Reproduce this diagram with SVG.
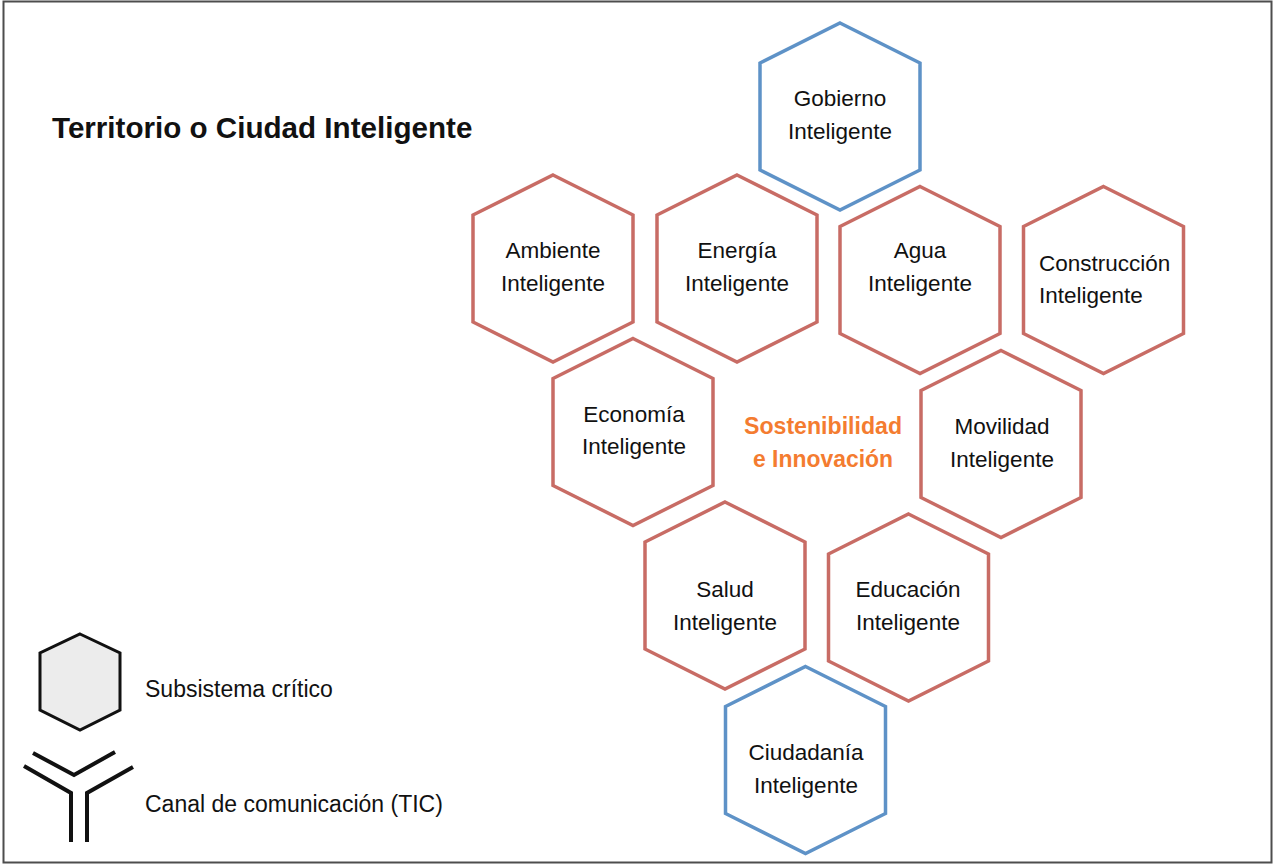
<svg xmlns="http://www.w3.org/2000/svg" xmlns:xlink="http://www.w3.org/1999/xlink" width="1273" height="865" viewBox="0 0 1273 865">
<style>
.red{fill:#fff;stroke:#c86c65;stroke-width:3.5;stroke-linejoin:miter}
.blue{fill:#fff;stroke:#5e92c7;stroke-width:3.5;stroke-linejoin:miter}
.lbl{font-family:"Liberation Sans",Arial,sans-serif;font-size:22.5px;fill:#111;text-anchor:middle}
.leg{font-family:"Liberation Sans",Arial,sans-serif;font-size:23px;fill:#111}
.core{font-family:"Liberation Sans",Arial,sans-serif;font-size:24px;font-weight:bold;fill:#f47c30;text-anchor:middle}
.title{font-family:"Liberation Sans",Arial,sans-serif;font-size:29.6px;font-weight:bold;fill:#111}
.sym{fill:none;stroke:#111;stroke-width:4}
</style>
<defs>
<polygon id="hex" points="0,-93.5 80,-53.5 80,53.5 0,93.5 -80,53.5 -80,-53.5"/>
</defs>
<rect x="0" y="0" width="1273" height="865" fill="#fff"/>
<rect x="3.5" y="1.5" width="1268" height="861" fill="none" stroke="#4d4d4d" stroke-width="2"/>
<text class="title" x="52" y="138">Territorio o Ciudad Inteligente</text>

<g id="connectors"/>

<g id="gobierno">
<use xlink:href="#hex" href="#hex" x="840" y="116.5" class="blue"/>
<text class="lbl" x="840" y="106">Gobierno</text>
<text class="lbl" x="840" y="139">Inteligente</text>
</g>
<g id="ambiente">
<use xlink:href="#hex" href="#hex" x="553" y="268.5" class="red"/>
<text class="lbl" x="553" y="258">Ambiente</text>
<text class="lbl" x="553" y="291">Inteligente</text>
</g>
<g id="energia">
<use xlink:href="#hex" href="#hex" x="737" y="268.5" class="red"/>
<text class="lbl" x="737" y="258">Energía</text>
<text class="lbl" x="737" y="291">Inteligente</text>
</g>
<g id="agua">
<use xlink:href="#hex" href="#hex" x="920" y="280" class="red"/>
<text class="lbl" x="920" y="258">Agua</text>
<text class="lbl" x="920" y="291">Inteligente</text>
</g>
<g id="construccion">
<use xlink:href="#hex" href="#hex" x="1103.5" y="280" class="red"/>
<text class="lbl" x="1039" y="271" style="text-anchor:start">Construcción</text>
<text class="lbl" x="1039" y="303" style="text-anchor:start">Inteligente</text>
</g>
<g id="economia">
<use xlink:href="#hex" href="#hex" x="633" y="432" class="red"/>
<text class="lbl" x="634" y="422">Economía</text>
<text class="lbl" x="634" y="454">Inteligente</text>
</g>
<g id="sostenibilidad">
<text class="core" x="823" y="434" textLength="158" lengthAdjust="spacingAndGlyphs">Sostenibilidad</text>
<text class="core" x="823" y="467" textLength="140" lengthAdjust="spacingAndGlyphs">e Innovación</text>
</g>
<g id="movilidad">
<use xlink:href="#hex" href="#hex" x="1001" y="444" class="red"/>
<text class="lbl" x="1002" y="434">Movilidad</text>
<text class="lbl" x="1002" y="467">Inteligente</text>
</g>
<g id="salud">
<use xlink:href="#hex" href="#hex" x="725" y="595.5" class="red"/>
<text class="lbl" x="725" y="597">Salud</text>
<text class="lbl" x="725" y="630">Inteligente</text>
</g>
<g id="educacion">
<use xlink:href="#hex" href="#hex" x="908.5" y="607.5" class="red"/>
<text class="lbl" x="908" y="597">Educación</text>
<text class="lbl" x="908" y="630">Inteligente</text>
</g>
<g id="ciudadania">
<use xlink:href="#hex" href="#hex" x="805.5" y="760" class="blue"/>
<text class="lbl" x="806" y="760">Ciudadanía</text>
<text class="lbl" x="806" y="793">Inteligente</text>
</g>

<g id="legend">
<polygon points="80,634 120,653 120,710 80,730 40,710 40,653" fill="#ececec" stroke="#111" stroke-width="3"/>
<text class="leg" x="145" y="697">Subsistema crítico</text>
<polyline class="sym" points="33,753 74,775 115,752"/>
<polyline class="sym" points="24,766 71,793 71,842"/>
<polyline class="sym" points="133,767 87,793 87,842"/>
<text class="leg" x="145" y="812">Canal de comunicación (TIC)</text>
</g>
</svg>
